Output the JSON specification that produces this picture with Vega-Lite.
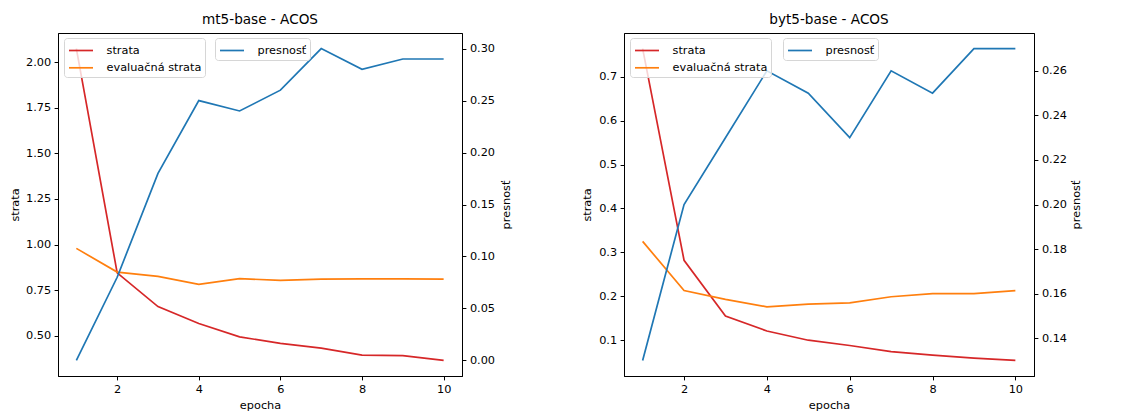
{
  "$schema": "https://vega.github.io/schema/vega-lite/v6.json",
  "padding": {"left": 8, "top": 12, "right": 5, "bottom": 2},
  "bounds": "flush",
  "spacing": 162,
  "background": "white",
  "config": {
    "font": "DejaVu Sans",
    "view": {"stroke": "#000000", "strokeWidth": 1},
    "title": {"font": "DejaVu Sans", "fontSize": 13.6, "fontWeight": "normal", "color": "#000000", "offset": 6, "anchor": "middle"},
    "axis": {
      "grid": false, "domainColor": "#000000", "tickColor": "#000000", "labelColor": "#000000", "titleColor": "#000000",
      "labelFont": "DejaVu Sans", "titleFont": "DejaVu Sans", "labelFontSize": 11.3, "titleFontSize": 11.3,
      "titleFontWeight": "normal", "tickSize": 3.9, "labelPadding": 3.5, "domainWidth": 1, "tickWidth": 1, "labelFlush": false
    },
    "legend": {
      "labelFont": "DejaVu Sans", "labelFontSize": 11.3, "labelColor": "#000000",
      "symbolType": "M-0.9375,0H2.0625", "symbolSize": 256, "symbolStrokeWidth": 1.7,
      "padding": 3.5, "rowPadding": 2.3, "labelOffset": 21,
      "fillColor": "rgba(255,255,255,0.8)", "strokeColor": "#d6d6d6", "cornerRadius": 3
    },
    "line": {"strokeWidth": 1.7}
  },
  "datasets": {
    "mt5": [
      {"epocha": 1, "metrika": "strata", "hodnota": 2.074},
      {"epocha": 2, "metrika": "strata", "hodnota": 0.845},
      {"epocha": 3, "metrika": "strata", "hodnota": 0.660},
      {"epocha": 4, "metrika": "strata", "hodnota": 0.567},
      {"epocha": 5, "metrika": "strata", "hodnota": 0.494},
      {"epocha": 6, "metrika": "strata", "hodnota": 0.458},
      {"epocha": 7, "metrika": "strata", "hodnota": 0.432},
      {"epocha": 8, "metrika": "strata", "hodnota": 0.394},
      {"epocha": 9, "metrika": "strata", "hodnota": 0.391},
      {"epocha": 10, "metrika": "strata", "hodnota": 0.365},
      {"epocha": 1, "metrika": "evaluačná strata", "hodnota": 0.979},
      {"epocha": 2, "metrika": "evaluačná strata", "hodnota": 0.849},
      {"epocha": 3, "metrika": "evaluačná strata", "hodnota": 0.826},
      {"epocha": 4, "metrika": "evaluačná strata", "hodnota": 0.782},
      {"epocha": 5, "metrika": "evaluačná strata", "hodnota": 0.813},
      {"epocha": 6, "metrika": "evaluačná strata", "hodnota": 0.804},
      {"epocha": 7, "metrika": "evaluačná strata", "hodnota": 0.811},
      {"epocha": 8, "metrika": "evaluačná strata", "hodnota": 0.812},
      {"epocha": 9, "metrika": "evaluačná strata", "hodnota": 0.812},
      {"epocha": 10, "metrika": "evaluačná strata", "hodnota": 0.811},
      {"epocha": 1, "metrika": "presnosť", "hodnota": 0.00},
      {"epocha": 2, "metrika": "presnosť", "hodnota": 0.08},
      {"epocha": 3, "metrika": "presnosť", "hodnota": 0.18},
      {"epocha": 4, "metrika": "presnosť", "hodnota": 0.25},
      {"epocha": 5, "metrika": "presnosť", "hodnota": 0.24},
      {"epocha": 6, "metrika": "presnosť", "hodnota": 0.26},
      {"epocha": 7, "metrika": "presnosť", "hodnota": 0.30},
      {"epocha": 8, "metrika": "presnosť", "hodnota": 0.28},
      {"epocha": 9, "metrika": "presnosť", "hodnota": 0.29},
      {"epocha": 10, "metrika": "presnosť", "hodnota": 0.29}
    ],
    "byt5": [
      {"epocha": 1, "metrika": "strata", "hodnota": 0.764},
      {"epocha": 2, "metrika": "strata", "hodnota": 0.282},
      {"epocha": 3, "metrika": "strata", "hodnota": 0.155},
      {"epocha": 4, "metrika": "strata", "hodnota": 0.121},
      {"epocha": 5, "metrika": "strata", "hodnota": 0.100},
      {"epocha": 6, "metrika": "strata", "hodnota": 0.088},
      {"epocha": 7, "metrika": "strata", "hodnota": 0.074},
      {"epocha": 8, "metrika": "strata", "hodnota": 0.066},
      {"epocha": 9, "metrika": "strata", "hodnota": 0.059},
      {"epocha": 10, "metrika": "strata", "hodnota": 0.054},
      {"epocha": 1, "metrika": "evaluačná strata", "hodnota": 0.325},
      {"epocha": 2, "metrika": "evaluačná strata", "hodnota": 0.213},
      {"epocha": 3, "metrika": "evaluačná strata", "hodnota": 0.193},
      {"epocha": 4, "metrika": "evaluačná strata", "hodnota": 0.176},
      {"epocha": 5, "metrika": "evaluačná strata", "hodnota": 0.182},
      {"epocha": 6, "metrika": "evaluačná strata", "hodnota": 0.185},
      {"epocha": 7, "metrika": "evaluačná strata", "hodnota": 0.199},
      {"epocha": 8, "metrika": "evaluačná strata", "hodnota": 0.206},
      {"epocha": 9, "metrika": "evaluačná strata", "hodnota": 0.206},
      {"epocha": 10, "metrika": "evaluačná strata", "hodnota": 0.213},
      {"epocha": 1, "metrika": "presnosť", "hodnota": 0.13},
      {"epocha": 2, "metrika": "presnosť", "hodnota": 0.20},
      {"epocha": 3, "metrika": "presnosť", "hodnota": 0.23},
      {"epocha": 4, "metrika": "presnosť", "hodnota": 0.26},
      {"epocha": 5, "metrika": "presnosť", "hodnota": 0.25},
      {"epocha": 6, "metrika": "presnosť", "hodnota": 0.23},
      {"epocha": 7, "metrika": "presnosť", "hodnota": 0.26},
      {"epocha": 8, "metrika": "presnosť", "hodnota": 0.25},
      {"epocha": 9, "metrika": "presnosť", "hodnota": 0.27},
      {"epocha": 10, "metrika": "presnosť", "hodnota": 0.27}
    ]
  },
  "hconcat": [
    {
      "width": 404, "height": 343,
      "title": "mt5-base - ACOS",
      "data": {"name": "mt5"},
      "layer": [
        {
          "transform": [{"filter": "datum.metrika !== 'presnosť'"}],
          "mark": {"type": "line"},
          "encoding": {
            "x": {"field": "epocha", "type": "quantitative", "scale": {"domain": [0.55, 10.45], "nice": false, "zero": false}, "axis": {"values": [2, 4, 6, 8, 10], "format": "d", "title": "epocha", "titlePadding": 5}},
            "y": {"field": "hodnota", "type": "quantitative", "scale": {"domain": [0.2795, 2.1595], "nice": false, "zero": false}, "axis": {"orient": "left", "values": [0.5, 0.75, 1.0, 1.25, 1.5, 1.75, 2.0], "format": ".2f", "title": "strata", "titlePadding": 5}},
            "color": {"field": "metrika", "type": "nominal", "scale": {"domain": ["strata", "evaluačná strata"], "range": ["#d62728", "#ff7f0e"]}, "legend": {"orient": "none", "legendX": 6, "legendY": 5, "title": null}}
          }
        },
        {
          "transform": [{"filter": "datum.metrika === 'presnosť'"}],
          "mark": {"type": "line"},
          "encoding": {
            "x": {"field": "epocha", "type": "quantitative", "scale": {"domain": [0.55, 10.45], "nice": false, "zero": false}},
            "y": {"field": "hodnota", "type": "quantitative", "scale": {"domain": [-0.015, 0.315], "nice": false, "zero": false}, "axis": {"orient": "right", "values": [0, 0.05, 0.1, 0.15, 0.2, 0.25, 0.3], "format": ".2f", "title": "presnosť", "titleAngle": 270, "titleBaseline": "top", "titlePadding": 6}},
            "color": {"field": "metrika", "type": "nominal", "scale": {"domain": ["presnosť"], "range": ["#1f77b4"]}, "legend": {"orient": "none", "legendX": 157, "legendY": 5, "title": null}}
          }
        }
      ],
      "resolve": {"scale": {"y": "independent", "color": "independent"}}
    },
    {
      "width": 410, "height": 343,
      "title": "byt5-base - ACOS",
      "data": {"name": "byt5"},
      "layer": [
        {
          "transform": [{"filter": "datum.metrika !== 'presnosť'"}],
          "mark": {"type": "line"},
          "encoding": {
            "x": {"field": "epocha", "type": "quantitative", "scale": {"domain": [0.55, 10.45], "nice": false, "zero": false}, "axis": {"values": [2, 4, 6, 8, 10], "format": "d", "title": "epocha", "titlePadding": 5}},
            "y": {"field": "hodnota", "type": "quantitative", "scale": {"domain": [0.0185, 0.7995], "nice": false, "zero": false}, "axis": {"orient": "left", "values": [0.1, 0.2, 0.3, 0.4, 0.5, 0.6, 0.7], "format": ".1f", "title": "strata", "titlePadding": 6}},
            "color": {"field": "metrika", "type": "nominal", "scale": {"domain": ["strata", "evaluačná strata"], "range": ["#d62728", "#ff7f0e"]}, "legend": {"orient": "none", "legendX": 6, "legendY": 5, "title": null}}
          }
        },
        {
          "transform": [{"filter": "datum.metrika === 'presnosť'"}],
          "mark": {"type": "line"},
          "encoding": {
            "x": {"field": "epocha", "type": "quantitative", "scale": {"domain": [0.55, 10.45], "nice": false, "zero": false}},
            "y": {"field": "hodnota", "type": "quantitative", "scale": {"domain": [0.123, 0.277], "nice": false, "zero": false}, "axis": {"orient": "right", "values": [0.14, 0.16, 0.18, 0.2, 0.22, 0.24, 0.26], "format": ".2f", "title": "presnosť", "titleAngle": 270, "titleBaseline": "top", "titlePadding": 4}},
            "color": {"field": "metrika", "type": "nominal", "scale": {"domain": ["presnosť"], "range": ["#1f77b4"]}, "legend": {"orient": "none", "legendX": 159, "legendY": 5, "title": null}}
          }
        }
      ],
      "resolve": {"scale": {"y": "independent", "color": "independent"}}
    }
  ],
  "resolve": {"scale": {"x": "independent", "y": "independent", "color": "independent"}}
}
